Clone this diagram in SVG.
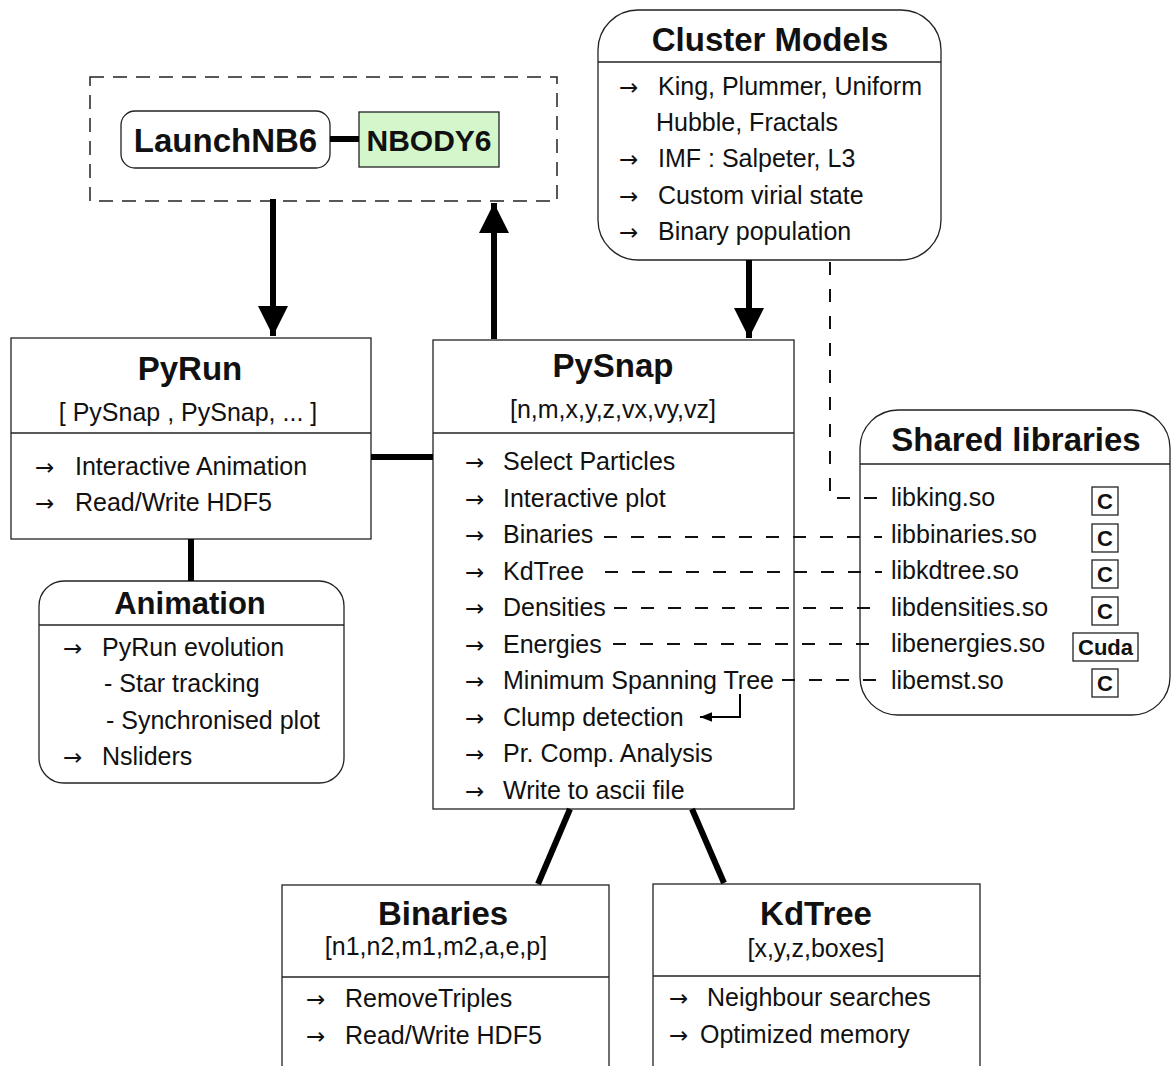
<svg xmlns="http://www.w3.org/2000/svg" width="1172" height="1066" viewBox="0 0 1172 1066">
<style>
text{font-family:"Liberation Sans",Arial,sans-serif;fill:#111}
.t{font-size:33px;font-weight:bold;text-anchor:middle}
.s{font-size:25px;text-anchor:middle}
.i{font-size:25px}
.a{font-family:"DejaVu Sans",sans-serif;font-size:23px}
.b{fill:#fff;stroke:#222;stroke-width:1.3}
.d{stroke:#222;stroke-width:1.3}
.k{stroke:#000;stroke-width:6;fill:none}
.dash{stroke:#111;stroke-width:2;stroke-dasharray:13 14;fill:none}
.lbl{font-size:22px;font-weight:bold;text-anchor:middle}
</style>
<defs>
<marker id="big" viewBox="0 0 10 10" refX="10" refY="5" markerWidth="5" markerHeight="5" orient="auto" markerUnits="strokeWidth"><path d="M0,0 L10,5 L0,10 z" fill="#000"/></marker>
<marker id="small" viewBox="0 0 10 10" refX="10" refY="5" markerWidth="6" markerHeight="6" orient="auto" markerUnits="strokeWidth"><path d="M0,1 L10,5 L0,9 z" fill="#000"/></marker>
</defs>

<g id="nbody-group">
<rect x="90" y="77" width="467" height="124" fill="none" stroke="#222" stroke-width="1.5" stroke-dasharray="14 9"/>
</g>

<g id="launchnb6">
<rect class="b" x="121" y="111" width="209" height="57" rx="14"/>
<text class="t" x="225.5" y="152">LaunchNB6</text>
</g>

<g id="nbody6">
<rect x="359" y="112" width="140" height="55" fill="#d3f6cb" stroke="#222" stroke-width="1.3"/>
<text class="t" x="429" y="151" style="font-size:30px">NBODY6</text>
</g>

<g id="cluster-models">
<rect class="b" x="598" y="10" width="343" height="250" rx="40"/>
<line class="d" x1="598" y1="62" x2="941" y2="62"/>
<text class="t" x="770" y="51">Cluster Models</text>
<text class="a" x="619" y="95">→</text><text class="i" x="658" y="95">King, Plummer, Uniform</text>
<text class="i" x="656" y="131">Hubble, Fractals</text>
<text class="a" x="619" y="167">→</text><text class="i" x="658" y="167">IMF : Salpeter, L3</text>
<text class="a" x="619" y="204">→</text><text class="i" x="658" y="204">Custom virial state</text>
<text class="a" x="619" y="240">→</text><text class="i" x="658" y="240">Binary population</text>
</g>

<g id="pyrun">
<rect class="b" x="11" y="338" width="360" height="201"/>
<line class="d" x1="11" y1="433" x2="371" y2="433"/>
<text class="t" x="190" y="380">PyRun</text>
<text class="s" x="188" y="421">[ PySnap , PySnap, ... ]</text>
<text class="a" x="35" y="475">→</text><text class="i" x="75" y="475">Interactive Animation</text>
<text class="a" x="35" y="511">→</text><text class="i" x="75" y="511">Read/Write HDF5</text>
</g>

<g id="pysnap">
<rect class="b" x="433" y="340" width="361" height="469"/>
<line class="d" x1="433" y1="433" x2="794" y2="433"/>
<text class="t" x="613" y="377">PySnap</text>
<text class="s" x="613" y="418">[n,m,x,y,z,vx,vy,vz]</text>
<text class="a" x="465" y="470">→</text><text class="i" x="503" y="470">Select Particles</text>
<text class="a" x="465" y="507">→</text><text class="i" x="503" y="507">Interactive plot</text>
<text class="a" x="465" y="543">→</text><text class="i" x="503" y="543">Binaries</text>
<text class="a" x="465" y="580">→</text><text class="i" x="503" y="580">KdTree</text>
<text class="a" x="465" y="616">→</text><text class="i" x="503" y="616">Densities</text>
<text class="a" x="465" y="653">→</text><text class="i" x="503" y="653">Energies</text>
<text class="a" x="465" y="689">→</text><text class="i" x="503" y="689">Minimum Spanning Tree</text>
<text class="a" x="465" y="726">→</text><text class="i" x="503" y="726">Clump detection</text>
<text class="a" x="465" y="762">→</text><text class="i" x="503" y="762">Pr. Comp. Analysis</text>
<text class="a" x="465" y="799">→</text><text class="i" x="503" y="799">Write to ascii file</text>
</g>

<g id="shared-libraries">
<rect class="b" x="860" y="410" width="310" height="305" rx="38"/>
<line class="d" x1="860" y1="464" x2="1170" y2="464"/>
<text class="t" x="1016" y="451">Shared libraries</text>
<text class="i" x="891" y="506">libking.so</text>
<text class="i" x="891" y="543">libbinaries.so</text>
<text class="i" x="891" y="579">libkdtree.so</text>
<text class="i" x="891" y="616">libdensities.so</text>
<text class="i" x="891" y="652">libenergies.so</text>
<text class="i" x="891" y="689">libemst.so</text>
<rect class="b" x="1092" y="487" width="26" height="28"/><text class="lbl" x="1105" y="509">C</text>
<rect class="b" x="1092" y="524" width="26" height="28"/><text class="lbl" x="1105" y="546">C</text>
<rect class="b" x="1092" y="560" width="26" height="28"/><text class="lbl" x="1105" y="582">C</text>
<rect class="b" x="1092" y="597" width="26" height="28"/><text class="lbl" x="1105" y="619">C</text>
<rect class="b" x="1073" y="633" width="65" height="28"/><text class="lbl" x="1105.5" y="655">Cuda</text>
<rect class="b" x="1092" y="669" width="26" height="28"/><text class="lbl" x="1105" y="691">C</text>
</g>

<g id="animation">
<rect class="b" x="39" y="581" width="305" height="202" rx="25"/>
<line class="d" x1="39" y1="625" x2="344" y2="625"/>
<text class="t" x="190" y="614" style="font-size:31px">Animation</text>
<text class="a" x="63" y="656">→</text><text class="i" x="102" y="656">PyRun evolution</text>
<text class="i" x="104" y="692">- Star tracking</text>
<text class="i" x="106" y="729">- Synchronised plot</text>
<text class="a" x="63" y="765">→</text><text class="i" x="102" y="765">Nsliders</text>
</g>

<g id="binaries">
<rect class="b" x="282" y="885" width="327" height="200"/>
<line class="d" x1="282" y1="977" x2="609" y2="977"/>
<text class="t" x="443" y="925">Binaries</text>
<text class="s" x="436" y="955">[n1,n2,m1,m2,a,e,p]</text>
<text class="a" x="306" y="1007">→</text><text class="i" x="345" y="1007">RemoveTriples</text>
<text class="a" x="306" y="1044">→</text><text class="i" x="345" y="1044">Read/Write HDF5</text>
</g>

<g id="kdtree">
<rect class="b" x="653" y="884" width="327" height="200"/>
<line class="d" x1="653" y1="976" x2="980" y2="976"/>
<text class="t" x="816" y="925">KdTree</text>
<text class="s" x="816" y="957">[x,y,z,boxes]</text>
<text class="a" x="669" y="1006">→</text><text class="i" x="707" y="1006">Neighbour searches</text>
<text class="a" x="669" y="1043">→</text><text class="i" x="700" y="1043">Optimized memory</text>
</g>

<g id="connectors">
<path class="k" d="M273,199 V336" marker-end="url(#big)"/>
<path class="k" d="M494,339 V203" marker-end="url(#big)"/>
<path class="k" d="M749,260 V338" marker-end="url(#big)"/>
<path class="k" d="M330,139 H359"/>
<path class="k" d="M371,457 H433"/>
<path class="k" d="M191,539 V581"/>
<path class="k" d="M570,809 L538,884"/>
<path class="k" d="M692,809 L724,883"/>
<path class="dash" d="M830,262 V498 H882"/>
<path class="dash" d="M604,537 H882"/>
<path class="dash" d="M605,572 H882"/>
<path class="dash" d="M614,608 H882"/>
<path class="dash" d="M613,644 H882"/>
<path class="dash" d="M782,680 H882"/>
<path d="M740,694 V717 H700" fill="none" stroke="#000" stroke-width="2" marker-end="url(#small)"/>
</g>
</svg>
